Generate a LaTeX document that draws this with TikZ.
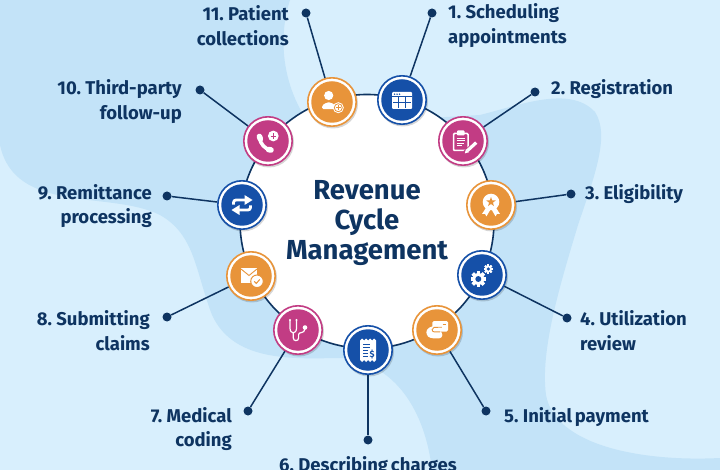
\documentclass[tikz,border=0pt]{standalone}
\usepackage{fontspec}
\setmainfont[WordSpace=0.65]{Fira Sans}
\definecolor{bgl}{HTML}{D8EFFD}
\definecolor{bgd}{HTML}{C3E3F8}
\definecolor{ink}{HTML}{0E3461}
\definecolor{cO}{HTML}{E8943A}
\definecolor{cB}{HTML}{1550A8}
\definecolor{cM}{HTML}{C23C84}
\tikzset{
 badge/.style={circle,draw=#1,line width=1.6pt,fill=white,minimum size=48.4pt,inner sep=0pt},
 core/.style={circle,fill=#1,minimum size=41.5pt,inner sep=0pt},
 shade/.style={circle,fill=black,opacity=.16,minimum size=50pt,inner sep=0pt},
 conn/.style={draw=ink,line width=1.5pt},
 enddot/.style={circle,fill=ink,minimum size=9pt,inner sep=0pt},
 lab/.style={text=ink,font=\fontsize{18.5}{24.5}\selectfont\bfseries,inner sep=0pt},
 ttl/.style={text=ink,font=\fontsize{27.5}{30}\selectfont\bfseries,inner sep=0pt,align=center},
 hubn/.style={circle,draw=ink,line width=1.6pt,fill=white,minimum size=254pt,inner sep=0pt},
}
\newcommand\gearshape[3]{\begin{scope}[shift={(#1,#2)}]
 \foreach \a in {0,45,...,315}{\fill[white,rotate=\a] (-#3*.22,-#3) rectangle (#3*.22,#3);}
 \fill[white] (0,0) circle (#3*.76); \fill[cB] (0,0) circle (#3*.38);
 \end{scope}}
\begin{document}
\begin{tikzpicture}[x=1pt,y=-1pt]
\useasboundingbox (0,0) rectangle (720,470);
\clip (0,0) rectangle (720,470);
\fill[bgl] (0,0) rectangle (720,470);
\fill[bgd] (0,0) -- (290,0) .. controls (280,30) and (278,80) .. (310,125)
 -- (480,115) .. controls (520,105) and (570,85) .. (595,112)
 .. controls (610,135) and (595,175) .. (578,225)
 .. controls (560,285) and (540,350) .. (546,395)
 .. controls (555,445) and (640,462) .. (720,458) -- (720,470) -- (432,470)
 .. controls (425,410) and (395,365) .. (345,358)
 .. controls (300,358) and (235,365) .. (212,315)
 .. controls (195,270) and (195,235) .. (160,215)
 .. controls (110,190) and (15,215) .. (0,145) -- cycle;

\node[hubn] (hub) at (367,221.5) {};
\node[ttl] (title) at (367,223) {Revenue\\Cycle\\Management};

% badges
\foreach \n/\x/\y/\c in {b1/402/100/cB,b2/463/141/cM,b3/491/205/cO,b4/482/275/cB,b5/437/330/cO,b6/368/350/cB,b7/298/330/cM,b8/251/276/cO,b9/242/205/cB,b10/268/141/cM,b11/332/102/cO}{
 \node[shade] at (\x+1,\y+1.5) {};
 \node[badge=\c] (\n) at (\x,\y) {};
 \node[core=\c] at (\x,\y) {};
}
% end dots
\foreach \n/\x/\y in {d1/432/13,d2/535/92,d3/571/194,d4/567/318,d5/486/411,d6/368/440,d7/248/411,d8/167/317,d9/167/196,d10/200/90,d11/306/13}{
 \node[enddot] (\n) at (\x,\y) {};
}
\foreach \i in {1,...,11}{\draw[conn] (b\i) -- (d\i);}

% labels
\node[lab,anchor=west,align=left] (l1) at (448,25.5) {1. Scheduling\\appointments};
\node[lab,anchor=west] (l2) at (551,89.5) {2. Registration};
\node[lab,anchor=west] (l3) at (585,194) {3. Eligibility};
\node[lab,anchor=west,align=left] (l4) at (580,330.5) {4. Utilization\\review};
\node[lab,anchor=west] (l5) at (504,417) {5. Initial payment};
\node[lab] (l6) at (368,466) {6. Describing charges};
\node[lab,anchor=east,align=right] (l7) at (232,429) {7. Medical\\coding};
\node[lab,anchor=east,align=right] (l8) at (150,330.5) {8. Submitting\\claims};
\node[lab,anchor=east,align=right] (l9) at (152,206) {9. Remittance\\processing};
\node[lab,anchor=east,align=right] (l10) at (182,101.5) {10. Third-party\\follow-up};
\node[lab,anchor=east,align=right] (l11) at (289,25.5) {11. Patient\\collections};

% icon 1: calendar
\begin{scope}[shift={(402,100)}]
 \fill[white,rounded corners=1pt] (-10,-8) rectangle (10,9);
 \foreach \u in {-7.5,-5,-2.5}{\fill[cB] (\u,-5.8) circle (.8);}
 \draw[cB,line width=1pt] (-10,-3.3) -- (10,-3.3) (-9,2.8) -- (9,2.8) (-3.2,-3.3) -- (-3.2,8) (3.2,-3.3) -- (3.2,8);
\end{scope}
% icon 2: clipboard
\begin{scope}[shift={(463,141)}]
 \draw[white,line width=1.5pt,rounded corners=1pt] (-9.5,-7.5) rectangle (5,9.5);
 \fill[white,rounded corners=.8pt] (-6,-10.5) rectangle (1.5,-5.5);
 \draw[white,line width=.9pt] (-6.5,-3) -- (2,-3) (-6.5,-.5) -- (2,-.5) (-6.5,2) -- (1,2) (-6.5,4.5) -- (-1,4.5);
 \draw[cM,line width=5pt] (13,2) -- (2,12);
 \draw[white,line width=3.2pt] (13.2,1.6) -- (4.5,9.6);
 \fill[white] (1.8,12.4) -- (3,7.9) -- (6.1,11.2) -- cycle;
\end{scope}
% icon 3: award
\begin{scope}[shift={(491,205)}]
 \fill[white] (-4.5,2) -- (-9,9) -- (-6,8.8) -- (-4.6,11.4) -- (-.8,5) -- cycle;
 \fill[white] (4.5,2) -- (9,9) -- (6,8.8) -- (4.6,11.4) -- (.8,5) -- cycle;
 \fill[white] (0,-3) circle (8.3);
 \begin{scope}[shift={(0,-3)}]
 \fill[cO] (270:5) -- (306:2) -- (342:5) -- (18:2) -- (54:5) -- (90:2) -- (126:5) -- (162:2) -- (198:5) -- (234:2) -- cycle;
 \end{scope}
\end{scope}
% icon 4: gears
\begin{scope}[shift={(482,275)}]
 \gearshape{-3.7}{4}{7.8}
 \gearshape{6.3}{-6}{4.6}
\end{scope}
% icon 5: hand and card
\begin{scope}[shift={(437,330)}]
 \fill[white,rounded corners=1.5pt] (-4.7,-9) rectangle (11,1.7);
 \draw[cO,line width=.8pt] (5.5,-5.5) -- (8.5,-5.5);
 \fill[white,rounded corners=3pt] (-10.7,-.5) -- (-5,-4) -- (5,-4) -- (5,-1) -- (-1,-.5) -- (5.3,1.7) -- (5.3,8.3) -- (-7,8.3) -- (-10.7,5) -- cycle;
 \draw[cO,line width=.9pt] (4.8,-2.8) -- (-3,-2.6) .. controls (-5.5,-2.2) and (-5.5,1.6) .. (-3,1.8) -- (3,1.8);
\end{scope}
% icon 6: receipt
\begin{scope}[shift={(368,350)}]
 \fill[white] (-8,-9.5) -- (-6,-11.5) -- (-4,-9.5) -- (-2,-11.5) -- (0,-9.5) -- (2,-11.5) -- (4,-9.5) -- (6,-11.5) -- (8,-9.5)
  -- (8,10) -- (6,12) -- (4,10) -- (2,12) -- (0,10) -- (-2,12) -- (-4,10) -- (-6,12) -- (-8,10) -- cycle;
 \draw[cB,line width=.9pt] (-5,-6) -- (2,-6) (-5,-2.5) -- (2,-2.5) (-5,.5) -- (0,.5) (-5,3.5) -- (0,3.5) (-5,6.5) -- (0,6.5);
 \node[text=cB,font=\fontsize{9}{9}\selectfont\bfseries,inner sep=0pt] (dol) at (4.2,4) {\$};
\end{scope}
% icon 7: stethoscope
\begin{scope}[shift={(298,330)}]
 \draw[white,line width=1.2pt] (-8,-10) -- (-8,-2) .. controls (-8,4.5) and (-1.5,4.5) .. (-1.5,-2) -- (-1.5,-10);
 \draw[white,line width=1.2pt] (-4.7,3) -- (-4.7,8) .. controls (-4.7,11.5) and (0.6,11.5) .. (0.6,8) -- (0.6,4.5) .. controls (0.6,1.5) and (6.8,4) .. (6.8,-1);
 \fill[white] (-8,-10) circle (1.2) (-1.5,-10) circle (1.2) (7,-2.5) circle (2.3);
\end{scope}
% icon 8: envelope
\begin{scope}[shift={(251,276)}]
 \fill[white] (-10,-8) rectangle (6,7);
 \draw[cO,line width=.9pt] (-10,-7) -- (-2,-.5) -- (6,-7);
 \fill[white,draw=cO,line width=1pt] (6,5.3) circle (6.3);
 \draw[cO,line width=1pt] (3.3,5.4) -- (5.3,7.4) -- (8.8,3.4);
\end{scope}
% icon 9: arrows
\begin{scope}[shift={(242,205)}]
 \foreach \r in {0,180}{
 \begin{scope}[rotate=\r]
  \draw[white,line width=2.8pt,rounded corners=2.5pt] (-8.5,-.3) -- (-8.5,-5) -- (3,-5);
  \fill[white] (2.5,-10) -- (10.5,-5) -- (2.5,0) -- cycle;
 \end{scope}}
\end{scope}
% icon 10: phone
\begin{scope}[shift={(268,141)}]
 \draw[white,line width=3.6pt] (-8.5,-3) .. controls (-7.5,3) and (-3,8) .. (2.5,9);
 \draw[white,line width=5.6pt,line cap=round] (-8.6,-4.5) -- (-7.6,-2) (0.5,8.5) -- (3,9);
 \fill[white] (5.3,-5) circle (5.4);
 \draw[cM,line width=.8pt] (2.7,-5) -- (7.9,-5) (5.3,-7.6) -- (5.3,-2.4);
\end{scope}
% icon 11: person
\begin{scope}[shift={(332,102)}]
 \fill[white] (-3.3,-6.5) circle (4.6);
 \fill[white,rounded corners=1.5pt] (-10,7.2) -- (-10,3.5) -- (-5.5,.5) -- (-1,.5) -- (3.5,3.5) -- (3.5,7.2) -- cycle;
 \fill[white] (6.3,5.7) circle (5.5);
 \draw[cO,line width=.8pt] (6.3,5.7) circle (4);
 \draw[cO,line width=.8pt] (4.1,5.7) -- (8.5,5.7) (6.3,3.5) -- (6.3,7.9);
\end{scope}
\end{tikzpicture}
\end{document}
